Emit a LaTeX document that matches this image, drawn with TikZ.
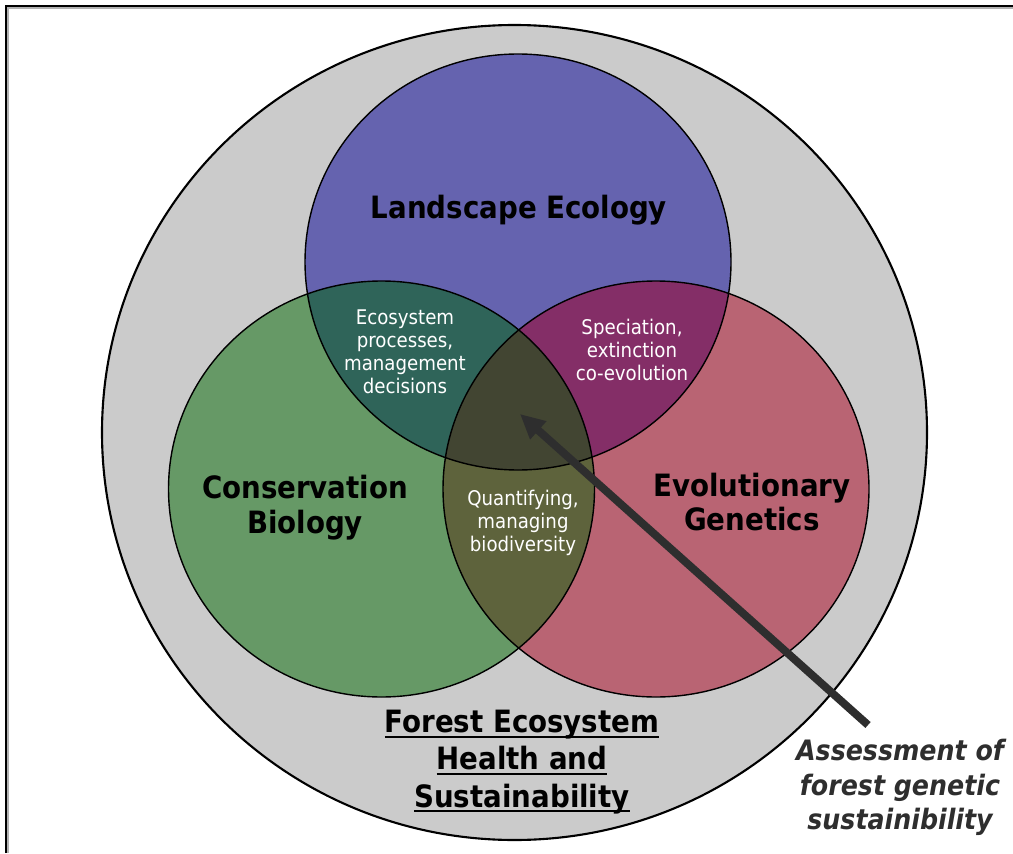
\documentclass[tikz,border=0pt]{standalone}
\usepackage{fontspec}
\setmainfont{DejaVu Sans Condensed}[
  BoldFont={DejaVu Sans Condensed Bold},
  ItalicFont={DejaVu Sans Condensed Oblique},
  BoldItalicFont={DejaVu Sans Condensed Bold Oblique}]
\usetikzlibrary{arrows.meta}
\definecolor{ringgray}{HTML}{CBCBCB}
\definecolor{landblue}{HTML}{6563AF}
\definecolor{consgreen}{HTML}{669966}
\definecolor{evolred}{HTML}{B96473}
\definecolor{landcons}{HTML}{2F6459}
\definecolor{landevol}{HTML}{842E67}
\definecolor{consevol}{HTML}{5E633C}
\definecolor{allthree}{HTML}{424532}
\definecolor{arrowgray}{HTML}{2E2E2E}
\newcommand\ulbase[1]{\setbox0=\hbox{#1}\rlap{\rule[-2.9pt]{\wd0}{1.1pt}}\box0}
\begin{document}
\begin{tikzpicture}[x=0.02cm, y=0.02cm,
    vennr/.style={x radius=213, y radius=208},
    fieldlbl/.style={font=\bfseries\fontsize{17.5}{19.8}\selectfont, align=center},
    sharedlbl/.style={font=\fontsize{11.5}{13}\selectfont, text=white, align=center},
    titlelbl/.style={font=\bfseries\fontsize{17.5}{21.3}\selectfont, align=center},
    notelbl/.style={font=\bfseries\itshape\fontsize{16}{19.6}\selectfont, text=arrowgray, align=center}]
  \useasboundingbox (0, 0) rectangle (1013, 853);
  % frame
  \draw [black, line width=1.1pt] (6, 0) -- (6, 847) -- (1013, 847);
  \draw [black!30, line width=0.9pt] (8.2, 0) -- (8.2, 844.8) -- (1013, 844.8);
  % centres
  \coordinate (forest) at (514.5, 420.5);
  \coordinate (land) at (518, 591);
  \coordinate (cons) at (381.5, 364);
  \coordinate (evol) at (656, 364);
  % outer ring
  \filldraw [fill=ringgray, line width=1.2pt] (forest) ellipse [x radius=412.5, y radius=407.5];
  % the three fields
  \fill [landblue] (land) ellipse [vennr];
  \fill [consgreen] (cons) ellipse [vennr];
  \fill [evolred] (evol) ellipse [vennr];
  % overlaps
  \begin{scope}
    \clip (cons) ellipse [vennr];
    \fill [consevol] (evol) ellipse [vennr];
  \end{scope}
  \begin{scope}
    \clip (land) ellipse [vennr];
    \fill [landcons] (cons) ellipse [vennr];
    \fill [landevol] (evol) ellipse [vennr];
    \clip (cons) ellipse [vennr];
    \fill [allthree] (evol) ellipse [vennr];
  \end{scope}
  \foreach \c in {land, cons, evol} {
    \draw [line width=0.8pt] (\c) ellipse [vennr];
  }
  % labels
  \node [fieldlbl] (landlbl) at (519, 643) {Landscape Ecology};
  \node [fieldlbl] (conslbl) at (305, 345) {Conservation\\Biology};
  \node [fieldlbl] (evollbl) at (752, 351) {Evolutionary\\Genetics};
  \node [sharedlbl] (lclbl) at (405, 501) {Ecosystem\\processes,\\management\\decisions};
  \node [sharedlbl] (lelbl) at (632, 503) {Speciation,\\extinction\\co-evolution};
  \node [sharedlbl] (celbl) at (523, 330) {Quantifying,\\managing\\biodiversity};
  \node [titlelbl] (forestlbl) at (522, 91) {\ulbase{Forest Ecosystem}\\\ulbase{Health and}\\\ulbase{Sustainability}};
  \node [notelbl] (notelbl) at (900, 65.5) {Assessment of\\forest genetic\\sustainibility};
  % arrow
  \coordinate (tail) at (868, 128);
  \coordinate (tip) at (520, 439);
  \draw [arrowgray, line width=4.5pt, -{Triangle[length=14pt, width=13pt]}] (tail) -- (tip);
\end{tikzpicture}
\end{document}
